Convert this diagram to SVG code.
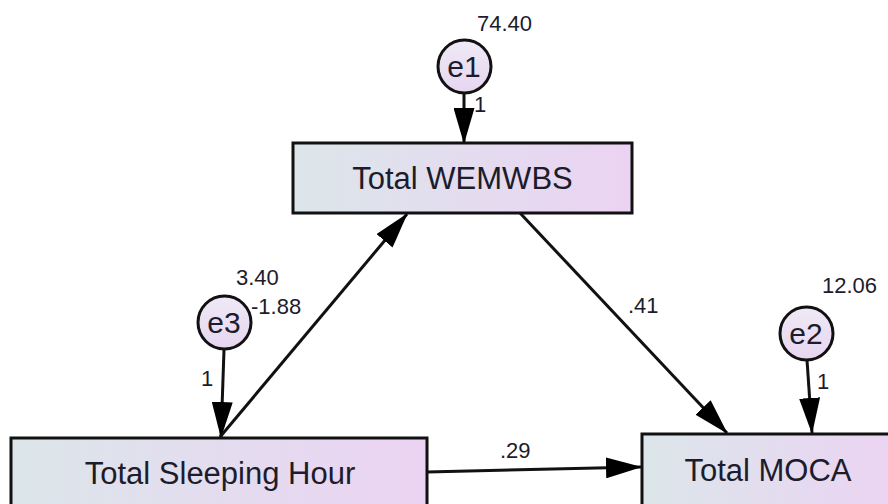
<svg xmlns="http://www.w3.org/2000/svg" width="888" height="504" viewBox="0 0 888 504">
<defs>
<linearGradient id="boxg" x1="0" y1="0" x2="1" y2="0">
<stop offset="0" stop-color="#dce6ea"/>
<stop offset="1" stop-color="#ebd3f3"/>
</linearGradient>
<linearGradient id="circg" x1="0" y1="0" x2="0" y2="1">
<stop offset="0" stop-color="#efe9f5"/>
<stop offset="1" stop-color="#e6d6f0"/>
</linearGradient>
<marker id="arr" viewBox="0 0 36 21" refX="35" refY="10.5" markerWidth="36" markerHeight="21" orient="auto" markerUnits="userSpaceOnUse">
<path d="M0,0 L36,10.5 L0,21 z" fill="#000"/>
</marker>
<style>
.box{fill:url(#boxg);stroke:#111;stroke-width:3}
.circ{fill:url(#circg);stroke:#111;stroke-width:3}
.lbl{font-family:"Liberation Sans",Arial,sans-serif;font-size:31px;fill:#1c1c2c}
.clbl{font-family:"Liberation Sans",Arial,sans-serif;font-size:30px;fill:#1c1c2c}
.num{font-family:"Liberation Sans",Arial,sans-serif;font-size:22px;fill:#1c1c2c}
.edge{stroke:#111;stroke-width:3;fill:none;marker-end:url(#arr)}
</style>
</defs>
<g id="connectors">
<line class="edge" x1="464" y1="93" x2="464" y2="143"/>
<line class="edge" x1="224" y1="350" x2="221" y2="437"/>
<line class="edge" x1="807" y1="360" x2="812" y2="433"/>
<line class="edge" x1="220" y1="437" x2="407" y2="214"/>
<line class="edge" x1="520" y1="213" x2="727" y2="433"/>
<line class="edge" x1="427" y1="472" x2="641" y2="467"/>
<text class="num" x="474" y="112">1</text>
<text class="num" x="201" y="386">1</text>
<text class="num" x="817" y="389">1</text>
<text class="num" x="628" y="313">.41</text>
<text class="num" x="500" y="458">.29</text>
</g>
<g id="e1">
<circle class="circ" cx="464.5" cy="66.5" r="26.5"/>
<text class="clbl" x="464" y="77" text-anchor="middle">e1</text>
<text class="num" x="477" y="31">74.40</text>
</g>
<g id="e3">
<circle class="circ" cx="224.5" cy="322.5" r="26.5"/>
<text class="clbl" x="224" y="333" text-anchor="middle">e3</text>
<text class="num" x="236" y="285">3.40</text>
<text class="num" x="251" y="314">-1.88</text>
</g>
<g id="e2">
<circle class="circ" cx="806.5" cy="333.5" r="26.5"/>
<text class="clbl" x="806" y="344" text-anchor="middle">e2</text>
<text class="num" x="822" y="293">12.06</text>
</g>
<g id="wemwbs">
<rect class="box" x="293" y="143" width="339" height="70"/>
<text class="lbl" x="462.5" y="189" text-anchor="middle">Total WEMWBS</text>
</g>
<g id="sleeping">
<rect class="box" x="11" y="438" width="416" height="80"/>
<text class="lbl" x="220" y="484" text-anchor="middle">Total Sleeping Hour</text>
</g>
<g id="moca">
<rect class="box" x="642" y="434" width="260" height="80"/>
<text class="lbl" x="768" y="481" text-anchor="middle">Total MOCA</text>
</g>
</svg>
